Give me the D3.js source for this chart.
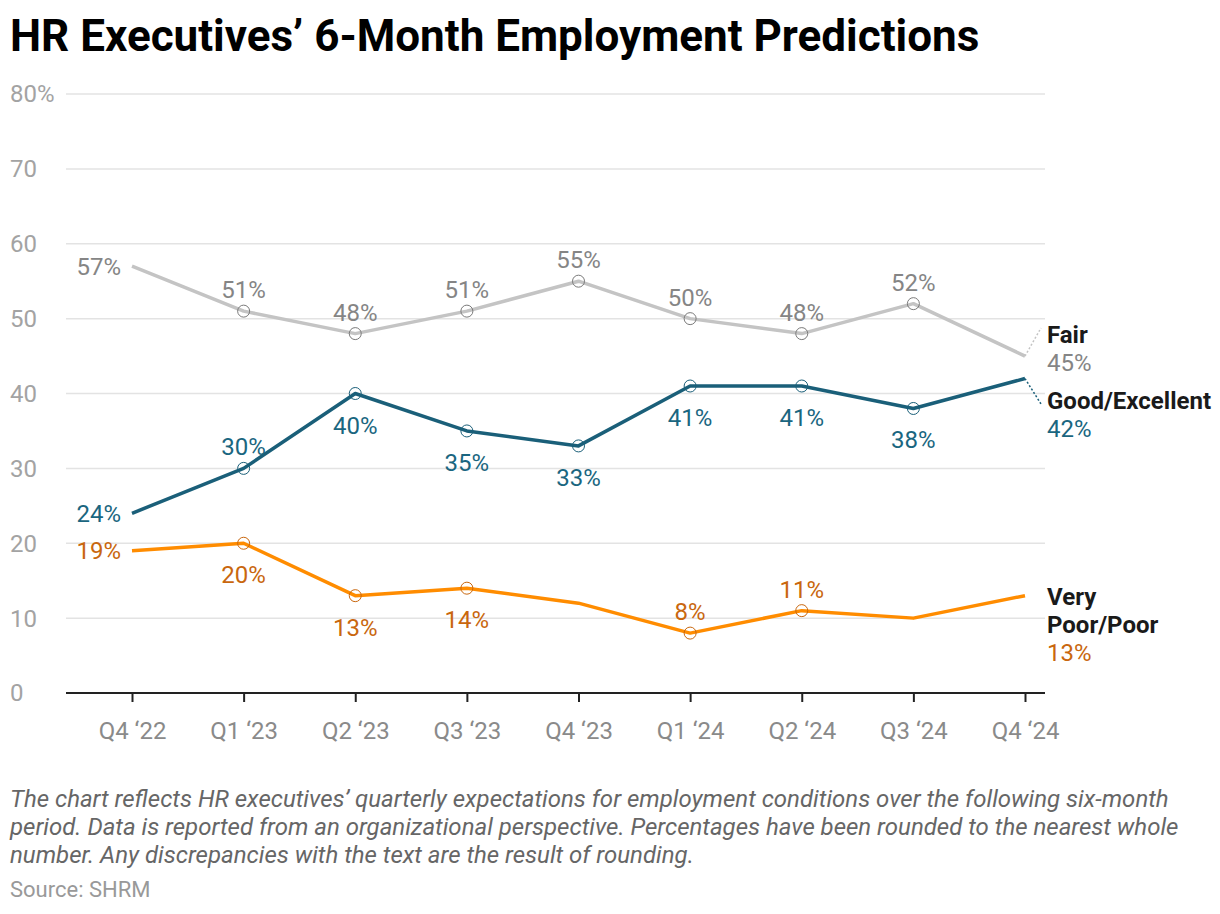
<!DOCTYPE html>
<html>
<head>
<meta charset="utf-8">
<script src="https://cdn.jsdelivr.net/npm/d3@7"></script>
<style>
  body { margin: 0; background: #fff; font-family: Roboto, "Noto Sans", sans-serif; }
  svg text { font-family: Roboto, "Noto Sans", sans-serif; }
</style>
</head>
<body>
<svg id="chart" width="1220" height="914"></svg>
<script>
// data
const quarters = ["Q4 \u201822", "Q1 \u201823", "Q2 \u201823", "Q3 \u201823", "Q4 \u201823", "Q1 \u201824", "Q2 \u201824", "Q3 \u201824", "Q4 \u201824"];
const fair = [57, 51, 48, 51, 55, 50, 48, 52, 45];
const good = [24, 30, 40, 35, 33, 41, 41, 38, 42];
const poor = [19, 20, 13, 14, 12, 8, 11, 10, 13];
const yTicks = [0, 10, 20, 30, 40, 50, 60, 70, 80];

// label placement per point: "a" above, "b" below, "l" left, "" none
const fairPos = ["l", "a", "a", "a", "a", "a", "a", "a", ""];
const goodPos = ["l", "a", "b", "b", "b", "b", "b", "b", ""];
const poorPos = ["l", "b", "b", "b", "", "a", "a", "", ""];

let plotLeft = 66, plotRight = 1045, plotTop = 94, plotBottom = 693;

const svg = d3.select("#chart");

const x = d3.scalePoint().domain(quarters).range([132, 1025]);
const y = d3.scaleLinear().domain([0, 80]).range([plotBottom, plotTop]);

// title
svg.append("text")
  .attr("x", 10).attr("y", 51)
  .attr("font-size", 44).attr("font-weight", 700)
  .attr("fill", "#000")
  .text("HR Executives\u2019 6-Month Employment Predictions");

// gridlines
svg.append("g")
  .selectAll("line")
  .data(yTicks.filter(d => d > 0))
  .enter()
  .append("line")
  .attr("x1", plotLeft).attr("x2", plotRight)
  .attr("y1", d => y(d)).attr("y2", d => y(d))
  .attr("stroke", "#e3e3e3").attr("stroke-width", 1.5);

// y labels
svg.append("g")
  .selectAll("text")
  .data(yTicks)
  .enter()
  .append("text")
  .attr("x", 10)
  .attr("y", d => y(d))
  .attr("dy", "0.35em")
  .attr("font-size", 24)
  .attr("fill", "#a3a3a3")
  .text(d => d === 80 ? d + "%" : d);

// x axis
const xAxis = d3.axisBottom(x).tickSize(9).tickSizeOuter(0).tickPadding(20);
const gx = svg.append("g")
  .attr("transform", `translate(0,${plotBottom})`)
  .call(xAxis);
gx.select(".domain").remove();
gx.append("line")
  .attr("x1", plotLeft).attr("x2", plotRight)
  .attr("stroke", "#222").attr("stroke-width", 2);
gx.selectAll(".tick line").attr("stroke", "#222").attr("stroke-width", 2);
gx.selectAll(".tick text")
  .attr("font-size", 24)
  .attr("fill", "#8a8a8a")
  .attr("font-family", "Roboto, sans-serif");

const line = d3.line()
  .x((d, i) => x(quarters[i]))
  .y(d => y(d));

const series = [
  { name: ["Fair"], values: fair, pos: fairPos, color: "#c4c4c4", text: "#858585", circle: "#7a7a7a",
    labelY: 334, connector: true },
  { name: ["Good/Excellent"], values: good, pos: goodPos, color: "#1a5f79", text: "#1a6680", circle: "#1a5f79",
    labelY: 400, connector: true },
  { name: ["Very", "Poor/Poor"], values: poor, pos: poorPos, color: "#ff8c00", text: "#c9670e", circle: "#c9670e",
    labelY: 596, connector: false }
];

series.forEach(s => {
  const g = svg.append("g");

  g.append("path")
    .datum(s.values)
    .attr("d", line)
    .attr("fill", "none")
    .attr("stroke", s.color)
    .attr("stroke-width", 3.5)
    .attr("stroke-linejoin", "round");

  // circles where a mid label exists (not first point)
  g.selectAll("circle")
    .data(s.values.map((v, i) => ({ v, i })).filter(d => d.i > 0 && s.pos[d.i] !== ""))
    .enter()
    .append("circle")
    .attr("cx", d => x(quarters[d.i]))
    .attr("cy", d => y(d.v))
    .attr("r", 6)
    .attr("fill", "none")
    .attr("stroke", s.circle)
    .attr("stroke-width", 1);

  g.selectAll("text.val")
    .data(s.values.map((v, i) => ({ v, i })).filter(d => s.pos[d.i] !== ""))
    .enter()
    .append("text")
    .attr("class", "val")
    .attr("x", d => s.pos[d.i] === "l" ? x(quarters[d.i]) - 11 : x(quarters[d.i]))
    .attr("y", d => {
      const p = s.pos[d.i];
      if (p === "a") return y(d.v) - 13;
      if (p === "b") return y(d.v) + 40;
      return y(d.v) + 8.5;
    })
    .attr("text-anchor", d => s.pos[d.i] === "l" ? "end" : "middle")
    .attr("font-size", 24)
    .attr("fill", s.text)
    .text(d => d.v + "%");

  // end labels
  const last = s.values[s.values.length - 1];
  const ex = x(quarters[quarters.length - 1]);
  if (s.connector) {
    g.append("line")
      .attr("x1", ex).attr("y1", y(last))
      .attr("x2", ex + 16).attr("y2", y(last) > s.labelY ? s.labelY - 6 : s.labelY + 4)
      .attr("stroke", s.color)
      .attr("stroke-width", 1.5)
      .attr("stroke-dasharray", "2,2");
  }
  s.name.forEach((n, k) => {
    g.append("text")
      .attr("x", 1047)
      .attr("y", s.labelY + 9 + k * 28)
      .attr("font-size", 24)
      .attr("font-weight", 700)
      .attr("fill", "#1a1a1a")
      .text(n);
  });
  g.append("text")
    .attr("x", 1047)
    .attr("y", s.labelY + 9 + s.name.length * 28)
    .attr("font-size", 24)
    .attr("fill", s.text)
    .text(last + "%");
});

// footnote
const notes = [
  "The chart reflects HR executives\u2019 quarterly expectations for employment conditions over the following six-month",
  "period. Data is reported from an organizational perspective. Percentages have been rounded to the nearest whole",
  "number. Any discrepancies with the text are the result of rounding."
];
svg.append("g")
  .selectAll("text")
  .data(notes)
  .enter()
  .append("text")
  .attr("x", 10)
  .attr("y", (d, i) => 807 + i * 28)
  .attr("font-size", 24)
  .attr("font-style", "italic")
  .attr("fill", "#666")
  .text(d => d);

svg.append("text")
  .attr("x", 10).attr("y", 897)
  .attr("font-size", 22)
  .attr("fill", "#999")
  .text("Source: SHRM");
</script>
</body>
</html>
